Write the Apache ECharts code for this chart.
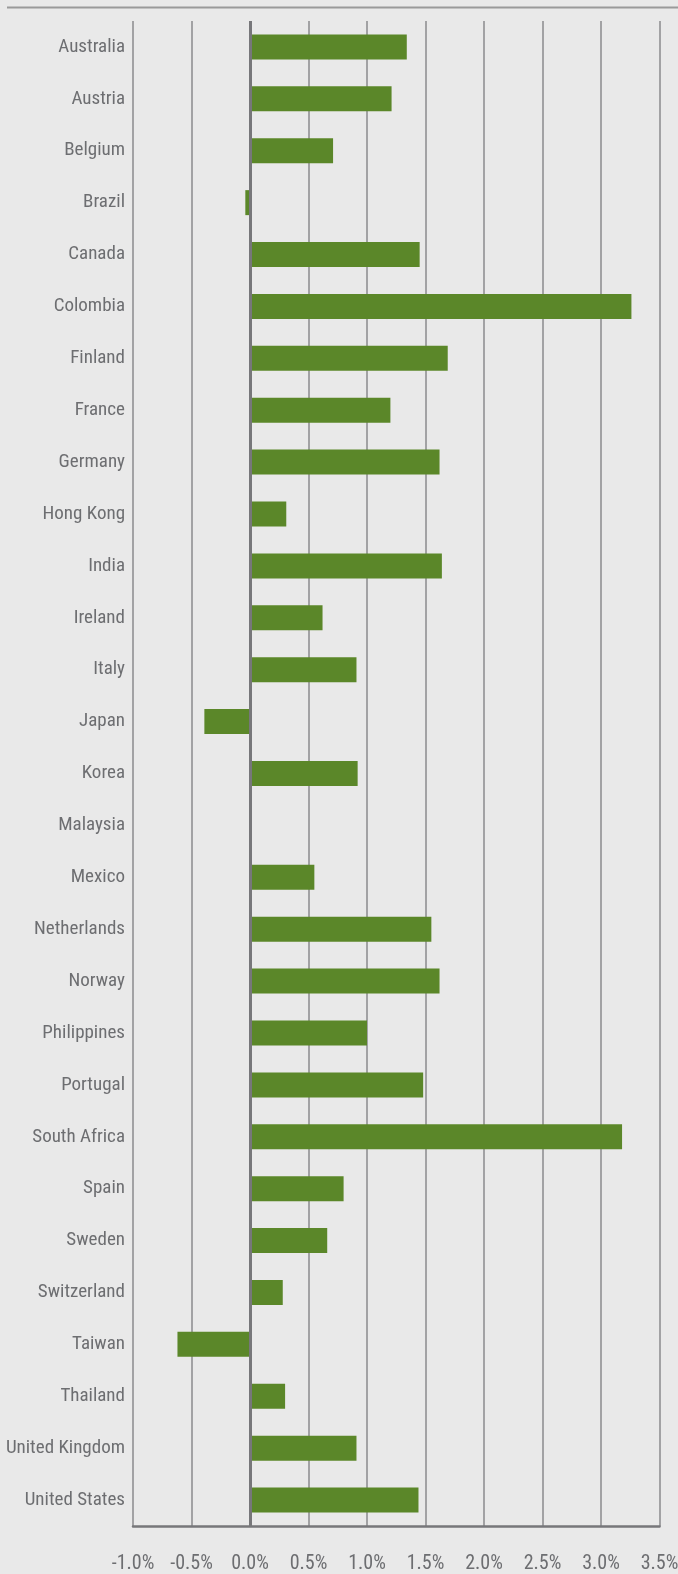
<!DOCTYPE html>
<html>
<head>
<meta charset="utf-8">
<script src="https://cdn.jsdelivr.net/npm/echarts@6/dist/echarts.min.js"></script>
<style>
  html, body { margin: 0; padding: 0; background: #e9e9e9; }
</style>
</head>
<body>
<div id="main" style="width: 678px; height: 1574px;"></div>
<script>
// 国家 / categories (top to bottom)
var countries = ['Australia', 'Austria', 'Belgium', 'Brazil', 'Canada', 'Colombia', 'Finland', 'France',
  'Germany', 'Hong Kong', 'India', 'Ireland', 'Italy', 'Japan', 'Korea', 'Malaysia', 'Mexico',
  'Netherlands', 'Norway', 'Philippines', 'Portugal', 'South Africa', 'Spain', 'Sweden',
  'Switzerland', 'Taiwan', 'Thailand', 'United Kingdom', 'United States'];

// values in percent
var values = [1.34, 1.21, 0.71, -0.04, 1.45, 3.26, 1.69, 1.20,
  1.62, 0.31, 1.64, 0.62, 0.91, -0.39, 0.92, 0, 0.55,
  1.55, 1.62, 1.00, 1.48, 3.18, 0.80, 0.66,
  0.28, -0.62, 0.30, 0.91, 1.44];

// x axis ticks
var xMin = -1.0;
var xMax = 3.5;
var xStep = 0.5;

// condensed look: font-stretch goes into the canvas font string
var font = 'Roboto, "DejaVu Sans Condensed", sans-serif';
var stretch = 'normal condensed';

var myChart = echarts.init(document.getElementById('main'));

var option = {
  backgroundColor: '#e9e9e9',
  animation: false,
  grid: { left: 133, right: 18.5, top: 21, bottom: 48, containLabel: false, outerBoundsMode: 'none' },
  graphic: [
    {
      // 顶部横线
      type: 'line',
      shape: { x1: 7, y1: 7.5, x2: 678, y2: 7.5 },
      style: { stroke: '#9a9a9a', lineWidth: 2 }
    }
  ],
  xAxis: {
    type: 'value',
    min: xMin,
    max: xMax,
    interval: xStep,
    axisLine: { show: true, onZero: false, lineStyle: { color: '#77777a', width: 2.5 } },
    axisTick: { show: false },
    splitLine: { show: true, lineStyle: { color: '#8a8a8c', width: 1.5 } },
    axisLabel: {
      margin: 28,
      fontFamily: font,
      fontWeight: stretch,
      fontSize: 20,
      color: '#6d6e71',
      formatter: function (v) { return v.toFixed(1) + '%'; }
    }
  },
  yAxis: {
    type: 'category',
    data: countries,
    inverse: true,
    axisLine: { show: false, onZero: false },
    axisTick: { show: false },
    splitLine: { show: false },
    axisLabel: {
      margin: 8,
      fontFamily: font,
      fontWeight: stretch,
      fontSize: 19,
      color: '#6d6e71',
      padding: [4, 0, 0, 0]
    }
  },
  series: [
    {
      type: 'bar',
      data: values,
      barWidth: 25,
      itemStyle: { color: '#5b8729' },
      markLine: {
        silent: true,
        symbol: 'none',
        label: { show: false },
        lineStyle: { color: '#77777a', width: 3, type: 'solid' },
        data: [{ xAxis: 0 }]
      }
    }
  ]
};

myChart.setOption(option);
</script>
</body>
</html>
